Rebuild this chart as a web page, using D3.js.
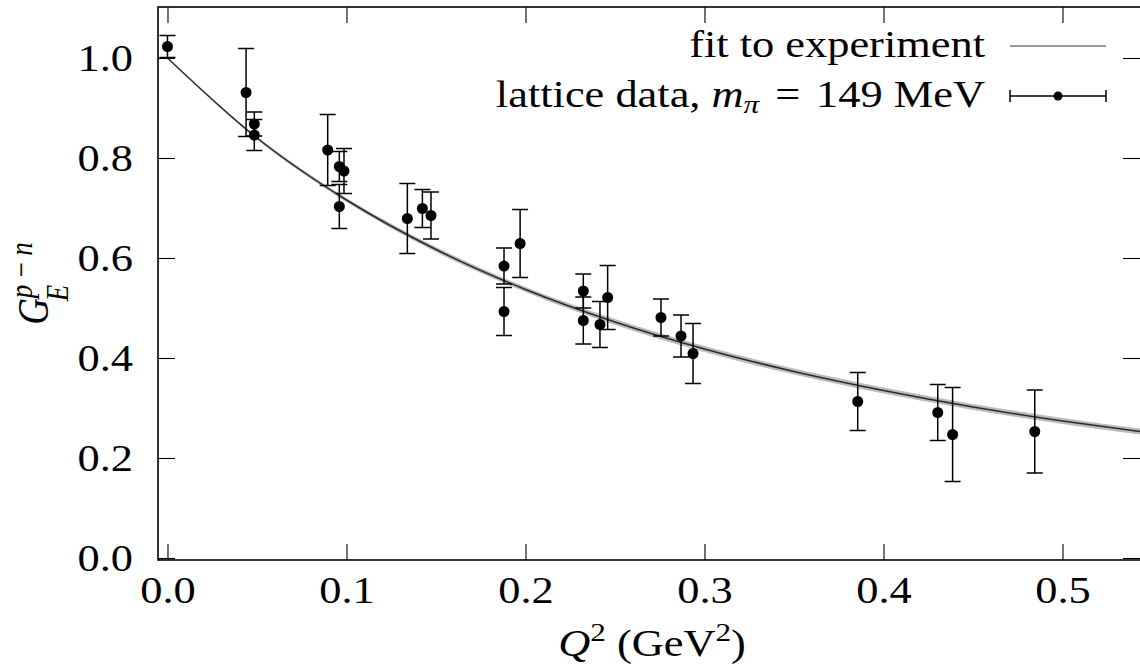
<!DOCTYPE html>
<html lang="en">
<head>
<meta charset="utf-8">
<title>G_E p-n vs Q^2</title>
<script src="https://d3js.org/d3.v7.min.js"></script>
<style>
  body { margin: 0; background: #fff; }
  svg { display: block; }
  text { font-family: "Liberation Serif", "Times New Roman", serif; fill: #000; }
</style>
</head>
<body>
<script>
// lattice points
let q2 = [0, 0.0439, 0.0485, 0.0485, 0.0895, 0.096, 0.0986, 0.096, 0.134, 0.1424, 0.1472,
          0.188, 0.188, 0.197, 0.2323, 0.2323, 0.2416, 0.2459, 0.2757, 0.2869, 0.2936,
          0.3856, 0.4303, 0.4386, 0.4845]
let ge = [1.023, 0.931, 0.868, 0.846, 0.816, 0.783, 0.774, 0.703, 0.679, 0.699, 0.685,
          0.584, 0.493, 0.629, 0.534, 0.475, 0.467, 0.521, 0.481, 0.444, 0.409,
          0.313, 0.291, 0.247, 0.253]
let geErr = [0.022, 0.088, 0.024, 0.031, 0.071, 0.03, 0.045, 0.044, 0.07, 0.038, 0.047,
             0.036, 0.048, 0.068, 0.034, 0.047, 0.046, 0.064, 0.037, 0.042, 0.06,
             0.058, 0.056, 0.094, 0.083]

// fit to experiment, sampled from the curve
let fitQ2 = [0, 0.05, 0.1, 0.15, 0.2, 0.25, 0.3, 0.35, 0.4, 0.45, 0.5, 0.545]
let fitG = [1.0, 0.840, 0.716, 0.617, 0.537, 0.472, 0.418, 0.373, 0.335, 0.302, 0.274, 0.252]
let fitBand = [0, 0.003, 0.004, 0.005, 0.005, 0.006, 0.006, 0.006, 0.006, 0.006, 0.006, 0.006]

let xTicks = [0, 0.1, 0.2, 0.3, 0.4, 0.5]
let yTicks = [0, 0.2, 0.4, 0.6, 0.8, 1.0]

let width = 1140
let height = 667
let padL = 158, padR = 1140, padT = 7, padB = 560
let sx = 1.2      // text in the picture is stretched sideways
let fs = 37

let svg = d3.select("body").append("svg")
    .attr("width", width)
    .attr("height", height)

let x = d3.scaleLinear().domain([-0.0053, 0.5433]).range([padL, padR])
let y = d3.scaleLinear().domain([-0.004, 1.102]).range([padB, padT])

// fit band + line
let area = d3.area()
    .x((d, i) => x(fitQ2[i]))
    .y0((d, i) => y(fitG[i] - fitBand[i]))
    .y1((d, i) => y(fitG[i] + fitBand[i]))
    .curve(d3.curveMonotoneX)
let line = d3.line()
    .x((d, i) => x(fitQ2[i]))
    .y((d, i) => y(fitG[i]))
    .curve(d3.curveMonotoneX)

svg.append("path").datum(fitQ2)
    .attr("d", area)
    .attr("fill", "#bcbcbc")
svg.append("path").datum(fitQ2)
    .attr("d", line)
    .attr("fill", "none")
    .attr("stroke", "#2a2a2a")
    .attr("stroke-width", 1.5)

// error bars and points
let pts = q2.map((q, i) => ({ q: q, g: ge[i], e: geErr[i] }))
let cap = 8
let eb = svg.append("g").attr("stroke", "#000").attr("stroke-width", 1.5)
pts.forEach(d => {
    eb.append("line")
        .attr("x1", x(d.q)).attr("x2", x(d.q))
        .attr("y1", y(d.g - d.e)).attr("y2", y(d.g + d.e))
    eb.append("line")
        .attr("x1", x(d.q) - cap).attr("x2", x(d.q) + cap)
        .attr("y1", y(d.g - d.e)).attr("y2", y(d.g - d.e))
    eb.append("line")
        .attr("x1", x(d.q) - cap).attr("x2", x(d.q) + cap)
        .attr("y1", y(d.g + d.e)).attr("y2", y(d.g + d.e))
})
svg.selectAll("circle.dot")
    .data(pts)
    .enter()
    .append("circle")
    .attr("class", "dot")
    .attr("cx", d => x(d.q))
    .attr("cy", d => y(d.g))
    .attr("r", 5.5)
    .attr("fill", "#000")

// axes: inward ticks on all four sides
let xAxis = d3.axisBottom(x).tickValues(xTicks).tickFormat(d3.format(".1f"))
    .tickSizeInner(-16).tickSizeOuter(0)
let gx = svg.append("g").attr("transform", `translate(0,${padB})`).call(xAxis)
gx.selectAll("text")
    .attr("y", 43).attr("dy", null)
    .attr("transform", `scale(${sx},1)`)
    .style("font-size", fs + "px")

let yAxis = d3.axisLeft(y).tickValues(yTicks).tickFormat(d3.format(".1f"))
    .tickSizeInner(-17).tickSizeOuter(0)
let gy = svg.append("g").attr("transform", `translate(${padL},0)`).call(yAxis)
gy.selectAll("text")
    .attr("x", -25 / sx).attr("dy", "0.34em")
    .attr("transform", `scale(${sx},1)`)
    .style("font-size", fs + "px")

svg.append("g").attr("transform", `translate(0,${padT})`)
    .call(d3.axisTop(x).tickValues(xTicks).tickFormat("").tickSizeInner(-16).tickSizeOuter(0))
svg.append("g").attr("transform", `translate(${padR},0)`)
    .call(d3.axisRight(y).tickValues(yTicks).tickFormat("").tickSizeInner(-17).tickSizeOuter(0))

svg.selectAll(".domain").remove()
svg.selectAll(".tick line").attr("stroke", "#000").attr("stroke-width", 1.1)

svg.append("rect")
    .attr("x", padL).attr("y", padT)
    .attr("width", padR - padL + 2).attr("height", padB - padT)
    .attr("fill", "none")
    .attr("stroke", "#000")
    .attr("stroke-width", 1.6)

// x title
let xt = svg.append("g")
    .attr("transform", `translate(${(padL + padR) / 2 + 3},656) scale(${sx},1)`)
    .append("text")
    .attr("text-anchor", "middle")
    .style("font-size", fs + "px")
xt.append("tspan").style("font-style", "italic").text("Q")
xt.append("tspan").attr("dy", -15).style("font-size", "26px").text("2")
xt.append("tspan").attr("dy", 15).text(" (GeV")
xt.append("tspan").attr("dy", -15).style("font-size", "26px").text("2")
xt.append("tspan").attr("dy", 15).text(")")

// y title
let yt = svg.append("g")
    .attr("transform", `translate(48,${(padT + padB) / 2}) rotate(-90) scale(1,${sx})`)
let gMain = yt.append("text")
    .style("font-size", fs + "px").style("font-style", "italic")
    .text("G")
let wG = gMain.node().getComputedTextLength()
let eSub = yt.append("text")
    .attr("x", wG - 3).attr("y", 17)
    .style("font-size", "27px").style("font-style", "italic")
    .text("E")
let pSup = yt.append("text")
    .attr("x", wG).attr("y", -13)
    .style("font-size", "27px").style("font-style", "italic")
    .text("p\u2009\u2212\u2009n")
let wTot = wG + Math.max(eSub.node().getComputedTextLength(), pSup.node().getComputedTextLength())
yt.selectAll("text").attr("transform", `translate(${-wTot / 2},0)`)

// legend
let legEnd = 985
let sampleX0 = 1010, sampleX1 = 1106
let row1 = 46, row2 = 96

svg.append("g").attr("transform", `translate(${legEnd},${row1 + 11}) scale(${sx},1)`)
    .append("text")
    .attr("text-anchor", "end")
    .style("font-size", fs + "px")
    .text("fit to experiment")
svg.append("line")
    .attr("x1", sampleX0).attr("x2", sampleX1)
    .attr("y1", row1).attr("y2", row1)
    .attr("stroke", "#333").attr("stroke-width", 1)

let lt = svg.append("g").attr("transform", `translate(${legEnd},${row2 + 11}) scale(${sx},1)`)
    .append("text")
    .attr("text-anchor", "end")
    .style("font-size", fs + "px")
lt.append("tspan").text("lattice data, ")
lt.append("tspan").style("font-style", "italic").text("m")
lt.append("tspan").attr("dy", 6).style("font-style", "italic").style("font-size", "26px").text("\u03c0")
lt.append("tspan").attr("dy", -6).attr("dx", 4).text(" =")
lt.append("tspan").attr("dx", 4).text(" 149 MeV")

let lg = svg.append("g").attr("stroke", "#000").attr("stroke-width", 1.5)
lg.append("line").attr("x1", sampleX0).attr("x2", sampleX1).attr("y1", row2).attr("y2", row2)
lg.append("line").attr("x1", sampleX0).attr("x2", sampleX0).attr("y1", row2 - 6).attr("y2", row2 + 6)
lg.append("line").attr("x1", sampleX1).attr("x2", sampleX1).attr("y1", row2 - 6).attr("y2", row2 + 6)
svg.append("circle")
    .attr("cx", (sampleX0 + sampleX1) / 2).attr("cy", row2)
    .attr("r", 4.5).attr("fill", "#000")
</script>
</body>
</html>
